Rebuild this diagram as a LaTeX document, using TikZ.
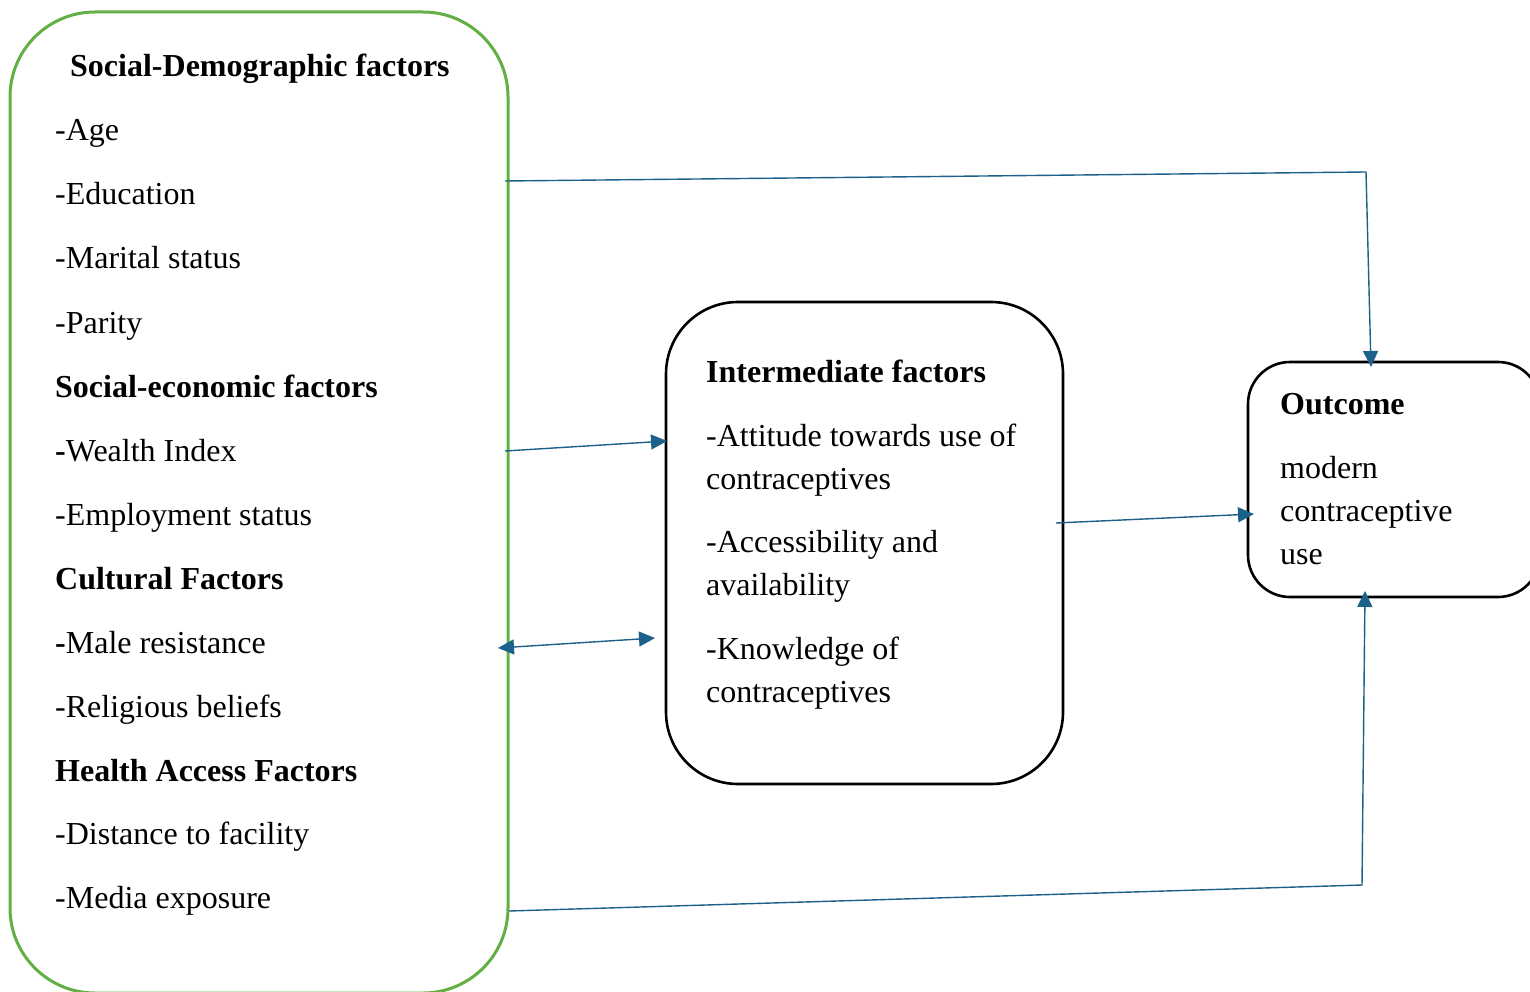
\documentclass[tikz,border=0pt]{standalone}
\usepackage{fontspec}
\setmainfont{Liberation Serif}
\usetikzlibrary{arrows.meta}
\definecolor{boxgreen}{HTML}{62B043}
\definecolor{arrowblue}{HTML}{1B6189}
\tikzset{
  txt/.style={anchor=base west, inner sep=0pt, font=\fontsize{32}{38}\selectfont},
  hd/.style={txt, font=\fontsize{32}{38}\selectfont\bfseries},
  conn/.style={draw=arrowblue, line width=1.4pt},
  tip/.style={-{Triangle[length=16pt,width=15pt]}},
  dtip/.style={{Triangle[length=16pt,width=15pt]}-{Triangle[length=16pt,width=15pt]}},
}
\begin{document}
\begin{tikzpicture}[x=1pt,y=-1pt]
\useasboundingbox (0,0) rectangle (1530,992);
\clip (0,0) rectangle (1530,992);
% boxes
\draw[boxgreen, line width=3pt, rounded corners=85pt] (10,12) rectangle (508,993);
\draw[black, line width=2.6pt, rounded corners=72pt] (666,302) rectangle (1063,784);
\draw[black, line width=2.6pt, rounded corners=42pt] (1248,362) rectangle (1540,597);
% left texts
\node[hd] (h1) at (70,77) {Social-Demographic factors};
\node[txt] (a1) at (55,141) {-Age};
\node[txt] (a2) at (55,205) {-Education};
\node[txt] (a3) at (55,269) {-Marital status};
\node[txt] (a4) at (55,333) {-Parity};
\node[hd] (h2) at (55,397) {Social-economic factors};
\node[txt] (b1) at (55,461) {\textbf{-}Wealth Index};
\node[txt] (b2) at (55,525) {-Employment status};
\node[hd] (h3) at (55,589) {Cultural Factors};
\node[txt] (c1) at (55,653) {\textbf{-}Male resistance};
\node[txt] (c2) at (55,717) {-Religious beliefs};
\node[hd] (h4) at (55,781) {Health Access Factors};
\node[txt] (d1) at (55,844) {-Distance to facility};
\node[txt] (d2) at (55,908) {-Media exposure};
% intermediate texts
\node[hd] (ih) at (706,382) {Intermediate factors};
\node[txt] (i1) at (706,446) {-Attitude towards use of};
\node[txt] (i2) at (706,489) {contraceptives};
\node[txt] (i3) at (706,552) {-Accessibility and};
\node[txt] (i4) at (706,595) {availability};
\node[txt] (i5) at (706,659) {-Knowledge of};
\node[txt] (i6) at (706,702) {contraceptives};
% outcome texts
\node[hd] (oh) at (1280,414) {Outcome};
\node[txt] (o1) at (1280,478) {modern};
\node[txt] (o2) at (1280,521) {contraceptive};
\node[txt] (o3) at (1280,564) {use};
% connector points
\coordinate (p1) at (505,181);
\coordinate (p2) at (1366,172);
\coordinate (p3) at (1371,367);
\coordinate (q1) at (505,451);
\coordinate (q2) at (667,441);
\coordinate (r1) at (498,648);
\coordinate (r2) at (655,638);
\coordinate (s1) at (1056,523);
\coordinate (s2) at (1254,514);
\coordinate (t1) at (509,911);
\coordinate (t2) at (1362,885);
\coordinate (t3) at (1365,591);
% connectors
\draw[conn, tip] (p1) -- (p2) -- (p3);
\draw[conn, tip] (q1) -- (q2);
\draw[conn, dtip] (r1) -- (r2);
\draw[conn, tip] (s1) -- (s2);
\draw[conn, tip] (t1) -- (t2) -- (t3);
\end{tikzpicture}
\end{document}
